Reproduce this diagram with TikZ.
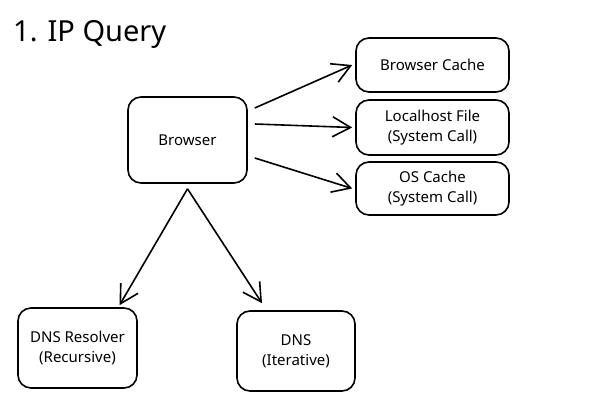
\documentclass[tikz,border=0pt]{standalone}
\usepackage{fontspec}
\setmainfont{Noto Sans}
\usetikzlibrary{arrows.meta}

\begin{document}
\begin{tikzpicture}
[x=1pt,y=-1pt,%
  lineDecorate/.style={-{Straight Barb[length=18pt,width=20pt]},line width=1.6pt},%
  nodeDecorate/.style={shape=rectangle,rounded corners=13pt,draw,line width=1.6pt,align=center,inner sep=2pt,font=\fontsize{15}{20}\selectfont}]
\useasboundingbox (0,0) rectangle (613,401);
\node (Title) at (13,42) [anchor=base west,inner sep=0pt,font=\fontsize{29}{32}\selectfont] {1. IP Query};
%% nodes or vertices
\foreach \nodename/\x/\y/\w/\h/\nodetext in {Browser/187.5/140/119/86/{Browser},
  Cache/432.5/65/153/54/{Browser Cache},
  Hosts/432.5/127.5/153/55/{Localhost File\\(System Call)},
  OSCache/432.5/188.5/153/53/{OS Cache\\(System Call)},
  Resolver/77.5/348/119/80/{DNS Resolver\\(Recursive)},
  DNS/296/351/118/80/{DNS\\(Iterative)}}
{
  \node (\nodename) at (\x,\y) [nodeDecorate,minimum width=\w pt,minimum height=\h pt] {\nodetext};
}
\coordinate (Fork) at ([yshift=-5pt]Browser.south);
%% edges or lines
\path
\foreach \endnode/\dy in {Cache/-32, Hosts/-16, OSCache/18}
{
  ([shift={(7,\dy)}]Browser.east) edge[lineDecorate] ([xshift=-3pt]\endnode.west)
};
\path
\foreach \endnode/\dx/\dy in {Resolver/42/-2, DNS/-34/-7}
{
  (Fork) edge[lineDecorate] ([shift={(\dx,\dy)}]\endnode.north)
};
\end{tikzpicture}
\end{document}
